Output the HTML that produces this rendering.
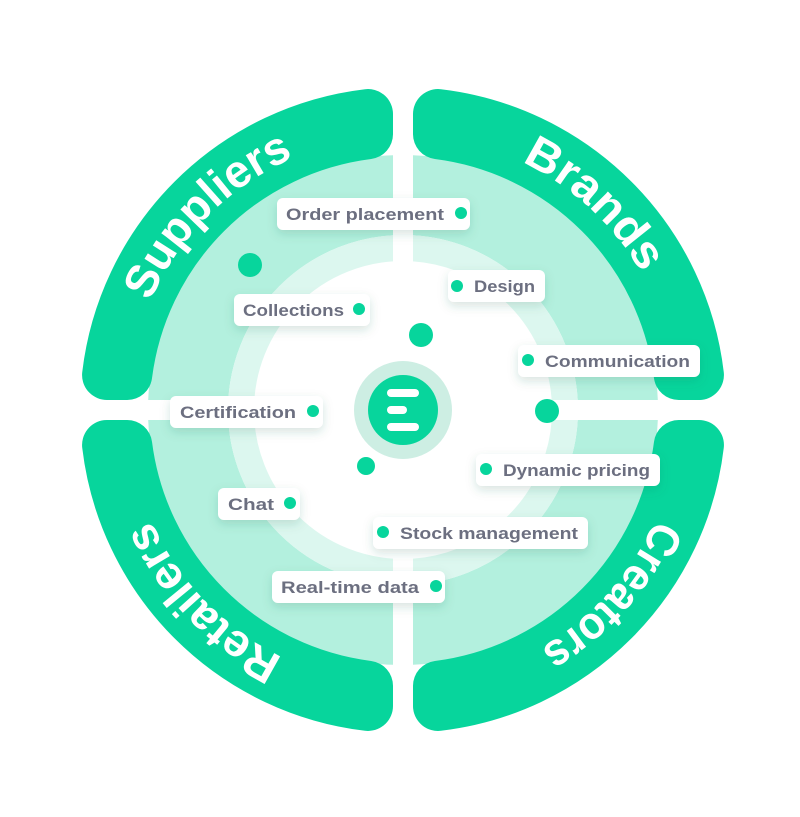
<!DOCTYPE html>
<html><head><meta charset="utf-8"><style>
html,body{margin:0;padding:0;background:#fff;}
svg{display:block;}
.lb{font-family:"Liberation Sans",sans-serif;font-weight:bold;font-size:17px;fill:#6c6f80;}
.bt{font-family:"Liberation Sans",sans-serif;font-weight:bold;font-size:46px;fill:#fff;}
</style></head><body>
<svg width="800" height="817" viewBox="0 0 800 817" xmlns="http://www.w3.org/2000/svg">
<defs>
<path id="tc" d="M678,410 A275,275 0 1 1 128,410 A275,275 0 1 1 678,410"/>
<clipPath id="q"><rect x="0" y="0" width="393" height="400"/></clipPath>
<filter id="sh" x="-20%" y="-40%" width="140%" height="200%"><feDropShadow dx="0" dy="4" stdDeviation="5" flood-color="#2a6a55" flood-opacity="0.18"/></filter>
<g id="quad">
  <g clip-path="url(#q)">
    <circle cx="403" cy="410" r="215" fill="none" stroke="#b3f0de" stroke-width="80"/>
    <circle cx="403" cy="410" r="162" fill="none" stroke="#dcf7ef" stroke-width="26"/>
  </g>
  <path d="M107.06,375 A298,298 0 0 1 368,114.06 L368,134.21 A278,278 0 0 0 127.21,375 Z" fill="#07d59c" stroke="#07d59c" stroke-width="50" stroke-linejoin="round"/>
</g>
</defs>
<use href="#quad"/>
<use href="#quad" transform="rotate(90 403 410)"/>
<use href="#quad" transform="rotate(180 403 410)"/>
<use href="#quad" transform="rotate(270 403 410)"/>

<text class="bt"><textPath href="#tc" startOffset="975" textLength="208" lengthAdjust="spacingAndGlyphs">Suppliers</textPath></text>
<text class="bt"><textPath href="#tc" startOffset="1418" textLength="166" lengthAdjust="spacingAndGlyphs">Brands</textPath></text>
<text class="bt"><textPath href="#tc" startOffset="112" textLength="176" lengthAdjust="spacingAndGlyphs">Creators</textPath></text>
<text class="bt"><textPath href="#tc" startOffset="556" textLength="194" lengthAdjust="spacingAndGlyphs">Retailers</textPath></text>

<circle cx="403" cy="410" r="49" fill="#cdeee3"/>
<circle cx="403" cy="410" r="35" fill="#07d59c"/>
<rect x="387" y="389" width="32" height="8" rx="4" fill="#fff"/>
<rect x="387" y="406" width="20" height="8" rx="4" fill="#fff"/>
<rect x="387" y="423" width="32" height="8" rx="4" fill="#fff"/>

<g fill="#07d59c">
<circle cx="250" cy="265" r="12"/><circle cx="421" cy="335" r="12"/>
<circle cx="547" cy="411" r="12"/><circle cx="366" cy="466" r="9"/>
</g>

<g filter="url(#sh)" fill="#fff">
<rect x="277" y="198" width="193" height="32" rx="6"/>
<rect x="448" y="270" width="97" height="32" rx="6"/>
<rect x="234" y="294" width="136" height="32" rx="6"/>
<rect x="518" y="345" width="182" height="32" rx="6"/>
<rect x="170" y="396" width="153" height="32" rx="6"/>
<rect x="476" y="454" width="184" height="32" rx="6"/>
<rect x="218" y="488" width="82" height="32" rx="6"/>
<rect x="373" y="517" width="215" height="32" rx="6"/>
<rect x="272" y="571" width="173" height="32" rx="6"/>
</g>
<g fill="#07d59c">
<circle cx="461" cy="213" r="6"/><circle cx="457" cy="286" r="6"/><circle cx="359" cy="309" r="6"/>
<circle cx="528" cy="360" r="6"/><circle cx="313" cy="411" r="6"/><circle cx="486" cy="469" r="6"/>
<circle cx="290" cy="503" r="6"/><circle cx="383" cy="532" r="6"/><circle cx="436" cy="586" r="6"/>
</g>
<g class="lb">
<text x="286" y="220" textLength="158" lengthAdjust="spacingAndGlyphs">Order placement</text>
<text x="474" y="292" textLength="61" lengthAdjust="spacingAndGlyphs">Design</text>
<text x="243" y="316" textLength="101" lengthAdjust="spacingAndGlyphs">Collections</text>
<text x="545" y="367" textLength="145" lengthAdjust="spacingAndGlyphs">Communication</text>
<text x="180" y="418" textLength="116" lengthAdjust="spacingAndGlyphs">Certification</text>
<text x="503" y="476" textLength="147" lengthAdjust="spacingAndGlyphs">Dynamic pricing</text>
<text x="228" y="510" textLength="46" lengthAdjust="spacingAndGlyphs">Chat</text>
<text x="400" y="539" textLength="178" lengthAdjust="spacingAndGlyphs">Stock management</text>
<text x="281" y="593" textLength="138" lengthAdjust="spacingAndGlyphs">Real-time data</text>
</g>
</svg>
</body></html>
